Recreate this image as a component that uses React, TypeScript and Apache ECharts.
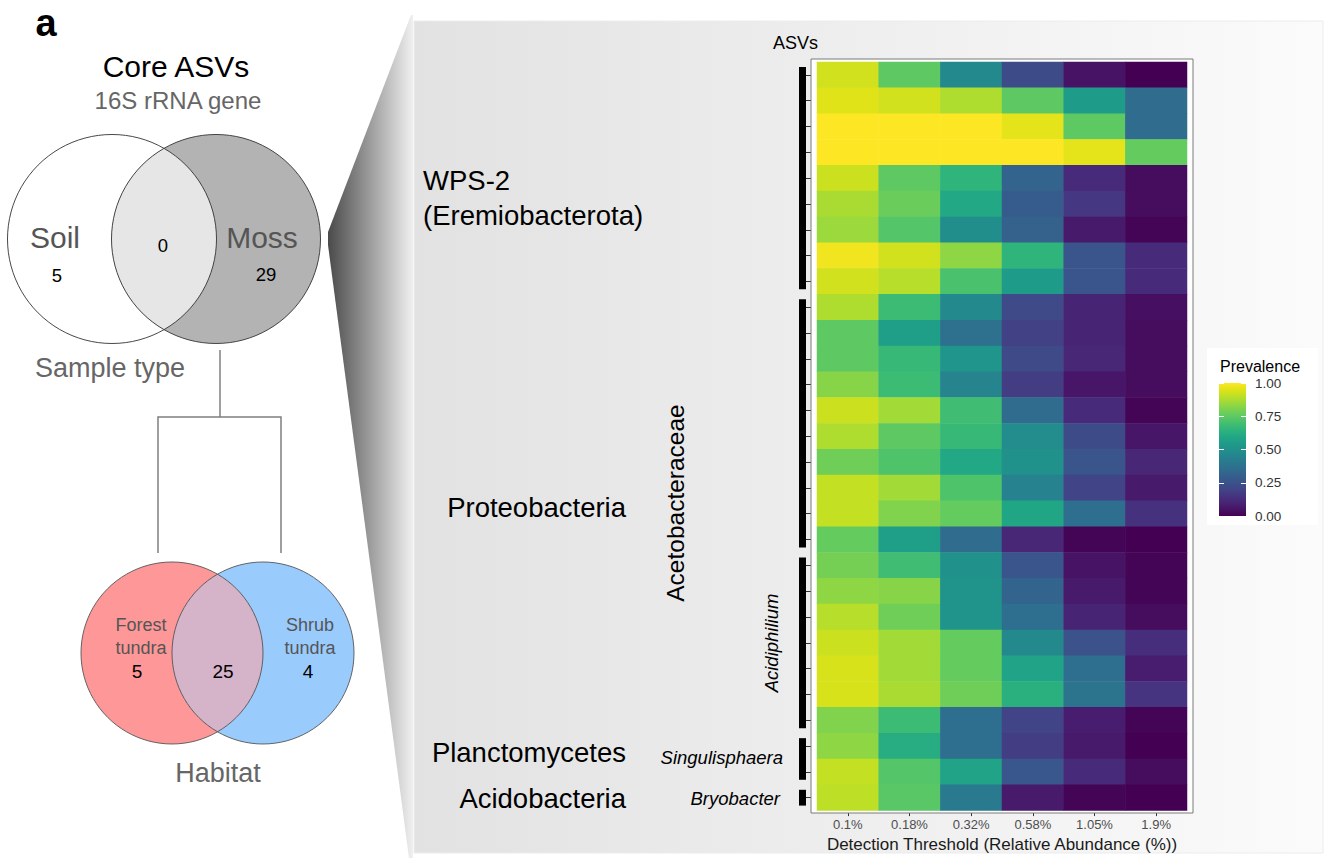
import React, { useEffect, useRef } from 'react';
import * as echarts from 'echarts';

// ---------- data ----------
const thresholds = ['0.1%', '0.18%', '0.32%', '0.58%', '1.05%', '1.9%'];

const wps2Rows = [
  [0.93, 0.75, 0.47, 0.23, 0.05, 0.0],
  [0.95, 0.93, 0.88, 0.75, 0.55, 0.35],
  [1.0, 1.0, 1.0, 0.96, 0.75, 0.35],
  [1.0, 1.0, 1.0, 1.0, 0.96, 0.76],
  [0.92, 0.75, 0.65, 0.32, 0.12, 0.03],
  [0.87, 0.77, 0.6, 0.29, 0.16, 0.03],
  [0.85, 0.73, 0.49, 0.31, 0.07, 0.01],
  [0.98, 0.93, 0.83, 0.65, 0.26, 0.12],
  [0.93, 0.89, 0.71, 0.55, 0.26, 0.12],
];
const acetobacteraceaeRows = [
  [0.88, 0.68, 0.47, 0.22, 0.1, 0.04],
  [0.75, 0.56, 0.37, 0.19, 0.1, 0.03],
  [0.75, 0.67, 0.52, 0.22, 0.11, 0.03],
  [0.82, 0.68, 0.45, 0.18, 0.06, 0.03],
  [0.92, 0.86, 0.69, 0.35, 0.12, 0.01],
  [0.88, 0.75, 0.67, 0.48, 0.23, 0.06],
  [0.78, 0.72, 0.6, 0.5, 0.26, 0.11],
  [0.91, 0.86, 0.72, 0.44, 0.2, 0.07],
  [0.91, 0.81, 0.76, 0.59, 0.36, 0.14],
  [0.76, 0.56, 0.35, 0.11, 0.01, 0.0],
];
const acidiphiliumRows = [
  [0.79, 0.69, 0.5, 0.26, 0.05, 0.01],
  [0.83, 0.82, 0.51, 0.32, 0.07, 0.01],
  [0.89, 0.78, 0.51, 0.36, 0.1, 0.03],
  [0.92, 0.86, 0.76, 0.47, 0.25, 0.13],
  [0.94, 0.86, 0.76, 0.58, 0.36, 0.08],
  [0.94, 0.87, 0.78, 0.63, 0.38, 0.15],
  [0.81, 0.68, 0.36, 0.2, 0.08, 0.01],
];
const singulisphaeraRows = [
  [0.83, 0.62, 0.36, 0.18, 0.07, 0.0],
  [0.91, 0.73, 0.58, 0.27, 0.12, 0.03],
];
const bryobacterRows = [[0.9, 0.74, 0.41, 0.07, 0.01, 0.0]];

const genusGroups = [wps2Rows, acetobacteraceaeRows, acidiphiliumRows, singulisphaeraRows, bryobacterRows];

const sampleTypeSets = ['Soil', 'Moss'];
const sampleTypeCounts = [5, 0, 29]; // soil only, shared, moss only
const habitatSets = ['Forest\ntundra', 'Shrub\ntundra'];
const habitatCounts = [5, 25, 4]; // forest only, shared, shrub only

const prevalenceTicks = [0, 0.25, 0.5, 0.75, 1];

const viridis = [
  '#440154', '#471365', '#482475', '#463480', '#414487', '#3b528b', '#355f8d',
  '#2f6c8e', '#2a788e', '#25848e', '#21918c', '#1e9c89', '#22a884', '#2fb47c',
  '#44bf70', '#5ec962', '#7ad151', '#9bd93c', '#bddf26', '#dfe318', '#fde725',
];

// ---------- derived ----------
const allRows = genusGroups.flat();
const asvIds = allRows.map((_, i) => 'ASV ' + (i + 1));
const heatData = allRows.flatMap((row, r) => row.map((v, c) => [c, r, v]));
let cursor = 0;
const groupSpans = genusGroups.map((g) => {
  const span = [cursor, cursor + g.length - 1];
  cursor += g.length;
  return span;
});

const FONT = "'Liberation Sans', Arial, Helvetica, sans-serif";

function lensPath(x1: number, x2: number, y: number, r: number) {
  const mx = (x1 + x2) / 2;
  const h = Math.sqrt(r * r - ((x2 - x1) / 2) ** 2);
  return `M ${mx} ${y - h} A ${r} ${r} 0 0 1 ${mx} ${y + h} A ${r} ${r} 0 0 1 ${mx} ${y - h} Z`;
}

const TOP = { x1: 112, x2: 216, y: 239, r: 104.5 };
const BOT = { x1: 172, x2: 263, y: 653, r: 91 };

echarts.graphic.registerShape('lensTop', echarts.graphic.extendPath(lensPath(TOP.x1, TOP.x2, TOP.y, TOP.r), {}));
echarts.graphic.registerShape('lensBottom', echarts.graphic.extendPath(lensPath(BOT.x1, BOT.x2, BOT.y, BOT.r), {}));

function txt(text: string, x: number, y: number, size: number, extra: any = {}, style: any = {}) {
  return {
    type: 'text',
    x,
    y,
    z: 10,
    ...extra,
    style: {
      text,
      fontSize: size,
      fontFamily: FONT,
      fill: '#000',
      align: 'center',
      verticalAlign: 'middle',
      ...style,
    },
  };
}

export default function App() {
  const ref = useRef<HTMLDivElement>(null);

  useEffect(() => {
    if (!ref.current) return;
    const chart = echarts.init(ref.current, undefined, { renderer: 'svg' });

    const graphic: any[] = [
      // spotlight wedge
      {
        type: 'polygon',
        z: 0,
        shape: { points: [[411, 15], [328, 232], [328, 245], [409, 858], [413, 858], [413, 15]] },
        style: {
          fill: new echarts.graphic.LinearGradient(0, 0, 1, 0, [
            { offset: 0, color: '#4a4a4a' },
            { offset: 1, color: '#f0f0f0' },
          ]),
        },
      },
      // right panel background
      {
        type: 'rect',
        z: 0,
        shape: { x: 414, y: 21, width: 909, height: 832 },
        style: {
          fill: new echarts.graphic.LinearGradient(0, 0, 1, 0, [
            { offset: 0, color: '#e2e2e2' },
            { offset: 1, color: '#fbfbfb' },
          ]),
          stroke: '#ececec',
          lineWidth: 1,
        },
      },
      // legend box
      { type: 'rect', z: 1, shape: { x: 1207, y: 348, width: 111, height: 177 }, style: { fill: '#ffffff' } },
      // heatmap panel
      {
        type: 'rect',
        z: 1,
        shape: { x: 811, y: 59, width: 382, height: 754 },
        style: { fill: '#ffffff', stroke: '#7a7a7a', lineWidth: 1 },
      },

      // ---- left: sample type venn ----
      txt('a', 46, 23, 38, {}, { fontWeight: 'bold' }),
      txt('Core ASVs', 176, 66, 30),
      txt('16S rRNA gene', 178, 100, 24, {}, { fill: '#666666' }),
      { type: 'circle', z: 1, shape: { cx: TOP.x1, cy: TOP.y, r: TOP.r }, style: { fill: '#ffffff' } },
      { type: 'circle', z: 1, shape: { cx: TOP.x2, cy: TOP.y, r: TOP.r }, style: { fill: '#b3b3b3' } },
      { type: 'lensTop', z: 2, x: 0, y: 0, style: { fill: '#e6e6e6' } },
      { type: 'circle', z: 3, shape: { cx: TOP.x1, cy: TOP.y, r: TOP.r }, style: { fill: 'none', stroke: '#333333', lineWidth: 0.9 } },
      { type: 'circle', z: 3, shape: { cx: TOP.x2, cy: TOP.y, r: TOP.r }, style: { fill: 'none', stroke: '#333333', lineWidth: 0.9 } },
      txt(sampleTypeSets[0], 55, 237, 30, {}, { fill: '#555555' }),
      txt(sampleTypeSets[1], 262, 237, 30, {}, { fill: '#555555' }),
      txt(String(sampleTypeCounts[0]), 57, 275, 18.5),
      txt(String(sampleTypeCounts[1]), 163, 245, 18.5),
      txt(String(sampleTypeCounts[2]), 266, 274, 18.5),
      txt('Sample type', 110, 368, 27, {}, { fill: '#666666' }),

      // connector
      { type: 'polyline', z: 1, shape: { points: [[220, 350], [220, 417]] }, style: { stroke: '#7f7f7f', lineWidth: 1.5, fill: 'none' } },
      {
        type: 'polyline',
        z: 1,
        shape: { points: [[158, 553], [158, 417], [281, 417], [281, 553]] },
        style: { stroke: '#7f7f7f', lineWidth: 1.5, fill: 'none' },
      },

      // ---- left: habitat venn ----
      { type: 'circle', z: 1, shape: { cx: BOT.x1, cy: BOT.y, r: BOT.r }, style: { fill: '#fe9797' } },
      { type: 'circle', z: 1, shape: { cx: BOT.x2, cy: BOT.y, r: BOT.r }, style: { fill: '#99cbfd' } },
      { type: 'lensBottom', z: 2, x: 0, y: 0, style: { fill: '#d5b3c8' } },
      { type: 'circle', z: 3, shape: { cx: BOT.x1, cy: BOT.y, r: BOT.r }, style: { fill: 'none', stroke: '#555555', lineWidth: 0.9 } },
      { type: 'circle', z: 3, shape: { cx: BOT.x2, cy: BOT.y, r: BOT.r }, style: { fill: 'none', stroke: '#555555', lineWidth: 0.9 } },
      txt(habitatSets[0], 141, 636, 18, {}, { fill: '#555555', lineHeight: 23 }),
      txt(habitatSets[1], 310, 636, 18, {}, { fill: '#555555', lineHeight: 23 }),
      txt(String(habitatCounts[0]), 137, 671, 19),
      txt(String(habitatCounts[1]), 223, 671, 19),
      txt(String(habitatCounts[2]), 308, 671, 19),
      txt('Habitat', 218, 773, 27, {}, { fill: '#666666' }),

      // ---- taxonomy labels ----
      txt('ASVs', 773, 43, 18, {}, { align: 'left' }),
      txt('WPS-2', 423, 180, 27.5, {}, { align: 'left' }),
      txt('(Eremiobacterota)', 423, 215, 27.5, {}, { align: 'left' }),
      txt('Proteobacteria', 626, 507, 27.5, {}, { align: 'right' }),
      txt('Planctomycetes', 626, 752, 27.5, {}, { align: 'right' }),
      txt('Acidobacteria', 626, 798, 27.5, {}, { align: 'right' }),
      txt('Acetobacteraceae', 675, 503, 24.5, { rotation: Math.PI / 2 }),
      txt('Acidiphilium', 771, 643, 18.5, { rotation: Math.PI / 2 }, { fontStyle: 'italic' }),
      txt('Singulisphaera', 783, 757, 18.5, {}, { align: 'right', fontStyle: 'italic' }),
      txt('Bryobacter', 780, 798, 18.5, {}, { align: 'right', fontStyle: 'italic' }),
      txt('Prevalence', 1220, 366, 16, {}, { align: 'left' }),
    ];

    chart.setOption({
      animation: false,
      backgroundColor: '#ffffff',
      textStyle: { fontFamily: FONT },
      graphic,
      grid: [
        { left: 817, top: 62, width: 370, height: 750 },
        { left: 1219, top: 383, width: 27, height: 133 },
      ],
      xAxis: [
        {
          type: 'category',
          gridIndex: 0,
          data: thresholds,
          offset: 1.5,
          axisLine: { show: false },
          axisTick: { show: true, alignWithLabel: true, length: 4, lineStyle: { color: '#333333' } },
          axisLabel: { color: '#4d4d4d', fontSize: 13, margin: 6, fontFamily: FONT },
          splitLine: { show: false },
          name: 'Detection Threshold (Relative Abundance (%))',
          nameLocation: 'middle',
          nameGap: 23,
          nameTextStyle: { color: '#1a1a1a', fontSize: 17, fontFamily: FONT },
        },
        { type: 'category', gridIndex: 1, data: ['bar'], show: false },
      ],
      yAxis: [
        {
          type: 'category',
          gridIndex: 0,
          data: asvIds,
          inverse: true,
          offset: 6,
          axisLine: { show: false },
          axisTick: { show: true, alignWithLabel: true, length: 5, lineStyle: { color: '#333333' } },
          axisLabel: { show: false },
          splitLine: { show: false },
        },
        {
          type: 'value',
          gridIndex: 1,
          position: 'right',
          min: prevalenceTicks[0],
          max: prevalenceTicks[prevalenceTicks.length - 1],
          interval: prevalenceTicks[1] - prevalenceTicks[0],
          z: 5,
          axisLine: { show: false },
          axisTick: { show: true, inside: true, length: 5, lineStyle: { color: '#ffffff', width: 1 } },
          axisLabel: { color: '#333333', fontSize: 13.5, margin: 9, fontFamily: FONT, formatter: (v: number) => v.toFixed(2) },
          splitLine: { show: false },
        },
        {
          type: 'value',
          gridIndex: 1,
          position: 'left',
          min: prevalenceTicks[0],
          max: prevalenceTicks[prevalenceTicks.length - 1],
          interval: prevalenceTicks[1] - prevalenceTicks[0],
          z: 5,
          axisLine: { show: false },
          axisTick: { show: true, inside: true, length: 5, lineStyle: { color: '#ffffff', width: 1 } },
          axisLabel: { show: false },
          splitLine: { show: false },
        },
      ],
      visualMap: {
        show: false,
        type: 'continuous',
        min: 0,
        max: 1,
        dimension: 2,
        seriesIndex: 0,
        inRange: { color: viridis },
      },
      series: [
        {
          type: 'heatmap',
          xAxisIndex: 0,
          yAxisIndex: 0,
          data: heatData,
          silent: true,
          itemStyle: { borderWidth: 0 },
        },
        {
          type: 'custom',
          xAxisIndex: 0,
          yAxisIndex: 0,
          silent: true,
          clip: false,
          data: groupSpans,
          renderItem: (params: any, api: any) => {
            const s = api.value(0);
            const e = api.value(1);
            const rowH = api.size([0, 1])[1];
            const colW = api.size([1, 0])[0];
            const top = api.coord([0, s])[1] - rowH / 2 + 5;
            const bottom = api.coord([0, e])[1] + rowH / 2 - 5;
            const left = api.coord([0, s])[0] - colW / 2 - 18;
            return {
              type: 'rect',
              shape: { x: left, y: top, width: 7, height: bottom - top },
              style: { fill: '#000000' },
            };
          },
        },
        {
          type: 'bar',
          xAxisIndex: 1,
          yAxisIndex: 1,
          data: [prevalenceTicks[prevalenceTicks.length - 1]],
          barWidth: '100%',
          silent: true,
          itemStyle: {
            color: new echarts.graphic.LinearGradient(
              0,
              0,
              0,
              1,
              viridis.map((c, i) => ({ offset: 1 - i / (viridis.length - 1), color: c })).reverse()
            ),
          },
        },
      ],
    });

    return () => chart.dispose();
  }, []);

  return <div ref={ref} style={{ position: 'fixed', left: 0, top: 0, width: 1324, height: 858 }} />;
}
